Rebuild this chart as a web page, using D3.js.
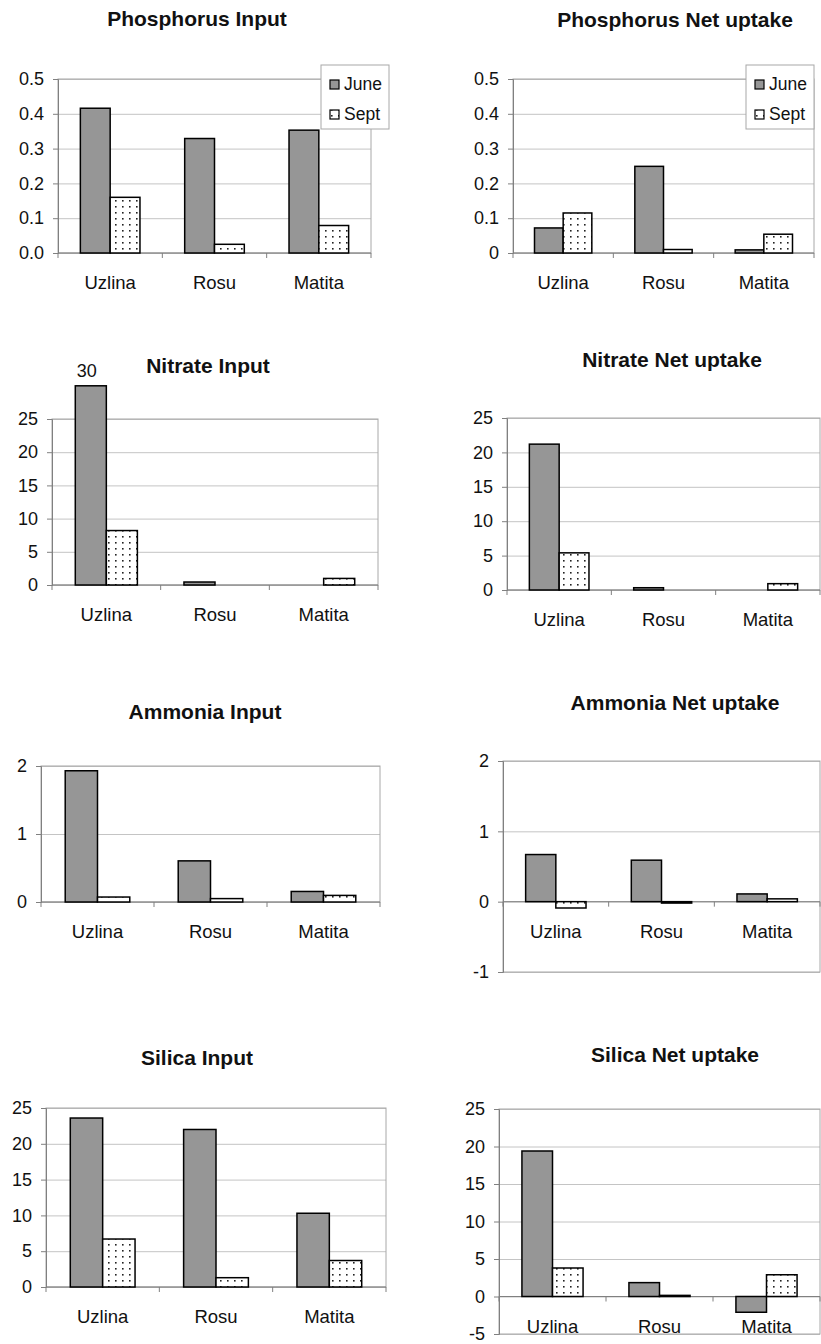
<!DOCTYPE html>
<html>
<head>
<meta charset="utf-8">
<script src="https://cdn.jsdelivr.net/npm/d3@7"></script>
<style>
  body { margin: 0; background: #fff; }
  svg { display: block; font-family: "Liberation Sans", Arial, sans-serif; }
</style>
</head>
<body>
<svg id="chart" width="821" height="1344"></svg>
<script>
"use strict";

// Data
const sites = ["Uzlina", "Rosu", "Matita"];
const months = ["June", "Sept"];

const phosInputJune = [0.416, 0.329, 0.353];
const phosInputSept = [0.16, 0.025, 0.079];
const phosNetJune = [0.072, 0.249, 0.009];
const phosNetSept = [0.115, 0.01, 0.054];

const nitrateInputJune = [30, 0.45, 0];
const nitrateInputSept = [8.2, 0, 0.99];
const nitrateNetJune = [21.2, 0.33, 0];
const nitrateNetSept = [5.4, 0, 0.92];

const ammoniaInputJune = [1.93, 0.605, 0.155];
const ammoniaInputSept = [0.073, 0.05, 0.097];
const ammoniaNetJune = [0.67, 0.59, 0.11];
const ammoniaNetSept = [-0.09, -0.02, 0.04];

const silicaInputJune = [23.6, 22.0, 10.3];
const silicaInputSept = [6.7, 1.3, 3.7];
const silicaNetJune = [19.4, 1.85, -2.1];
const silicaNetSept = [3.8, 0.15, 2.9];

// Axis ticks and labels
const phosTicks = [0, 0.1, 0.2, 0.3, 0.4, 0.5];
const phosInputTickLabels = ["0.0", "0.1", "0.2", "0.3", "0.4", "0.5"];
const phosNetTickLabels = ["0", "0.1", "0.2", "0.3", "0.4", "0.5"];
const nitrateTicks = [0, 5, 10, 15, 20, 25];
const nitrateTickLabels = ["0", "5", "10", "15", "20", "25"];
const ammoniaInputTicks = [0, 1, 2];
const ammoniaInputTickLabels = ["0", "1", "2"];
const ammoniaNetTicks = [-1, 0, 1, 2];
const ammoniaNetTickLabels = ["-1", "0", "1", "2"];
const silicaInputTicks = [0, 5, 10, 15, 20, 25];
const silicaInputTickLabels = ["0", "5", "10", "15", "20", "25"];
const silicaNetTicks = [-5, 0, 5, 10, 15, 20, 25];
const silicaNetTickLabels = ["-5", "0", "5", "10", "15", "20", "25"];

// Panel layout: plot box [left, right, top, bottom] in page pixels
var panels = [
  { title: "Phosphorus Input", june: phosInputJune, sept: phosInputSept,
    ticks: phosTicks, labels: phosInputTickLabels,
    box: [58, 371, 79, 253], tx: 197, ty: 26, legend: [321, 65] },
  { title: "Phosphorus Net uptake", june: phosNetJune, sept: phosNetSept,
    ticks: phosTicks, labels: phosNetTickLabels,
    box: [513, 814, 79, 253], tx: 675, ty: 27, legend: [746, 65] },
  { title: "Nitrate Input", june: nitrateInputJune, sept: nitrateInputSept,
    ticks: nitrateTicks, labels: nitrateTickLabels,
    box: [52, 378, 419, 585], tx: 208, ty: 373, overLabel: true },
  { title: "Nitrate Net uptake", june: nitrateNetJune, sept: nitrateNetSept,
    ticks: nitrateTicks, labels: nitrateTickLabels,
    box: [507, 820, 418, 590], tx: 672, ty: 367 },
  { title: "Ammonia Input", june: ammoniaInputJune, sept: ammoniaInputSept,
    ticks: ammoniaInputTicks, labels: ammoniaInputTickLabels,
    box: [41, 380, 766, 902], tx: 205, ty: 719 },
  { title: "Ammonia Net uptake", june: ammoniaNetJune, sept: ammoniaNetSept,
    ticks: ammoniaNetTicks, labels: ammoniaNetTickLabels,
    box: [503, 820, 761, 972], tx: 675, ty: 710 },
  { title: "Silica Input", june: silicaInputJune, sept: silicaInputSept,
    ticks: silicaInputTicks, labels: silicaInputTickLabels,
    box: [46, 386, 1108, 1287], tx: 197, ty: 1065 },
  { title: "Silica Net uptake", june: silicaNetJune, sept: silicaNetSept,
    ticks: silicaNetTicks, labels: silicaNetTickLabels,
    box: [499, 820, 1109, 1334], tx: 675, ty: 1062 }
];

var svg = d3.select("#chart");

// dotted fill for the September bars
var defs = svg.append("defs");
var pat = defs.append("pattern")
  .attr("id", "dots")
  .attr("patternUnits", "userSpaceOnUse")
  .attr("width", 7)
  .attr("height", 6);
pat.append("rect")
  .attr("width", 7).attr("height", 6)
  .attr("fill", "#fff");
pat.append("rect")
  .attr("x", 3).attr("y", 2)
  .attr("width", 1.6).attr("height", 1.6)
  .attr("fill", "#222");

const fills = { June: "#969696", Sept: "url(#dots)" };

panels.forEach(drawPanel);

function drawPanel(p) {
  let left = p.box[0], right = p.box[1], top = p.box[2], bottom = p.box[3];
  let g = svg.append("g");

  let y = d3.scaleLinear()
    .domain(d3.extent(p.ticks))
    .range([bottom, top]);

  let x = d3.scaleBand()
    .domain(sites)
    .range([left, right])
    .paddingInner(0.4286)
    .paddingOuter(0.2143);

  let xm = d3.scaleBand()
    .domain(months)
    .range([0, x.bandwidth()]);

  // title
  g.append("text")
    .attr("x", p.tx)
    .attr("y", p.ty)
    .attr("text-anchor", "middle")
    .attr("font-size", 21)
    .attr("font-weight", "bold")
    .attr("fill", "#111")
    .text(p.title);

  // gridlines
  g.append("g")
    .attr("transform", "translate(" + left + ",0)")
    .call(d3.axisLeft(y).tickValues(p.ticks).tickSize(-(right - left)).tickFormat(""))
    .call(s => s.select(".domain").remove())
    .selectAll("line")
    .attr("stroke", "#c4c4c4");

  // plot frame
  g.append("rect")
    .attr("x", left).attr("y", top)
    .attr("width", right - left).attr("height", bottom - top)
    .attr("fill", "none")
    .attr("stroke", "#a8a8a8");

  // y axis
  let yAxis = g.append("g")
    .attr("transform", "translate(" + left + ",0)")
    .call(d3.axisLeft(y)
      .tickValues(p.ticks)
      .tickSize(5)
      .tickPadding(9)
      .tickFormat((d, i) => p.labels[i]));
  yAxis.select(".domain").attr("stroke", "#808080");
  yAxis.selectAll("line").attr("stroke", "#808080");
  yAxis.selectAll("text")
    .attr("font-size", 18)
    .attr("font-family", "Liberation Sans, Arial, sans-serif")
    .attr("fill", "#111");

  // x axis at zero with ticks at category boundaries
  let y0 = y(0);
  g.append("line")
    .attr("x1", left).attr("x2", right)
    .attr("y1", y0).attr("y2", y0)
    .attr("stroke", "#808080");
  let bounds = sites.map(s => x(s) - x.step() * x.paddingInner() / 2)
    .concat([right]);
  bounds[0] = left;
  g.selectAll(".xtick")
    .data(bounds)
    .enter()
    .append("line")
    .attr("x1", d => d).attr("x2", d => d)
    .attr("y1", y0).attr("y2", y0 + 5)
    .attr("stroke", "#808080");

  // bars
  let rows = [];
  sites.forEach((s, i) => {
    rows.push({ site: s, month: "June", v: p.june[i] });
    rows.push({ site: s, month: "Sept", v: p.sept[i] });
  });

  g.selectAll(".bar")
    .data(rows.filter(d => d.v !== 0))
    .enter()
    .append("rect")
    .attr("x", d => x(d.site) + xm(d.month))
    .attr("width", xm.bandwidth())
    .attr("y", d => Math.min(y(d.v), y0))
    .attr("height", d => Math.max(Math.abs(y(d.v) - y0), 1))
    .attr("fill", d => fills[d.month])
    .attr("stroke", "#000")
    .attr("stroke-width", 1.5);

  // value label for the bar that runs off the top
  if (p.overLabel) {
    let d = rows[0];
    g.append("text")
      .attr("x", x(d.site) + xm(d.month) + xm.bandwidth() / 2 - 4)
      .attr("y", y(d.v) - 9)
      .attr("text-anchor", "middle")
      .attr("font-size", 18)
      .attr("fill", "#111")
      .text(d.v);
  }

  // category labels, sitting under the zero line
  g.selectAll(".cat")
    .data(sites)
    .enter()
    .append("text")
    .attr("x", d => x(d) + x.bandwidth() / 2)
    .attr("y", y0 + 36)
    .attr("text-anchor", "middle")
    .attr("font-size", 18.5)
    .attr("fill", "#111")
    .text(d => d);

  // legend
  if (p.legend) {
    let lg = g.append("g")
      .attr("transform", "translate(" + p.legend[0] + "," + p.legend[1] + ")");
    lg.append("rect")
      .attr("width", 68).attr("height", 64)
      .attr("fill", "#fff")
      .attr("stroke", "#a8a8a8");
    months.forEach((m, i) => {
      lg.append("rect")
        .attr("x", 9).attr("y", 15 + i * 30)
        .attr("width", 9).attr("height", 9)
        .attr("fill", fills[m])
        .attr("stroke", "#000")
        .attr("stroke-width", 1.2);
      lg.append("text")
        .attr("x", 23).attr("y", 25 + i * 30)
        .attr("font-size", 17.5)
        .attr("fill", "#111")
        .text(m);
    });
  }
}
</script>
</body>
</html>
